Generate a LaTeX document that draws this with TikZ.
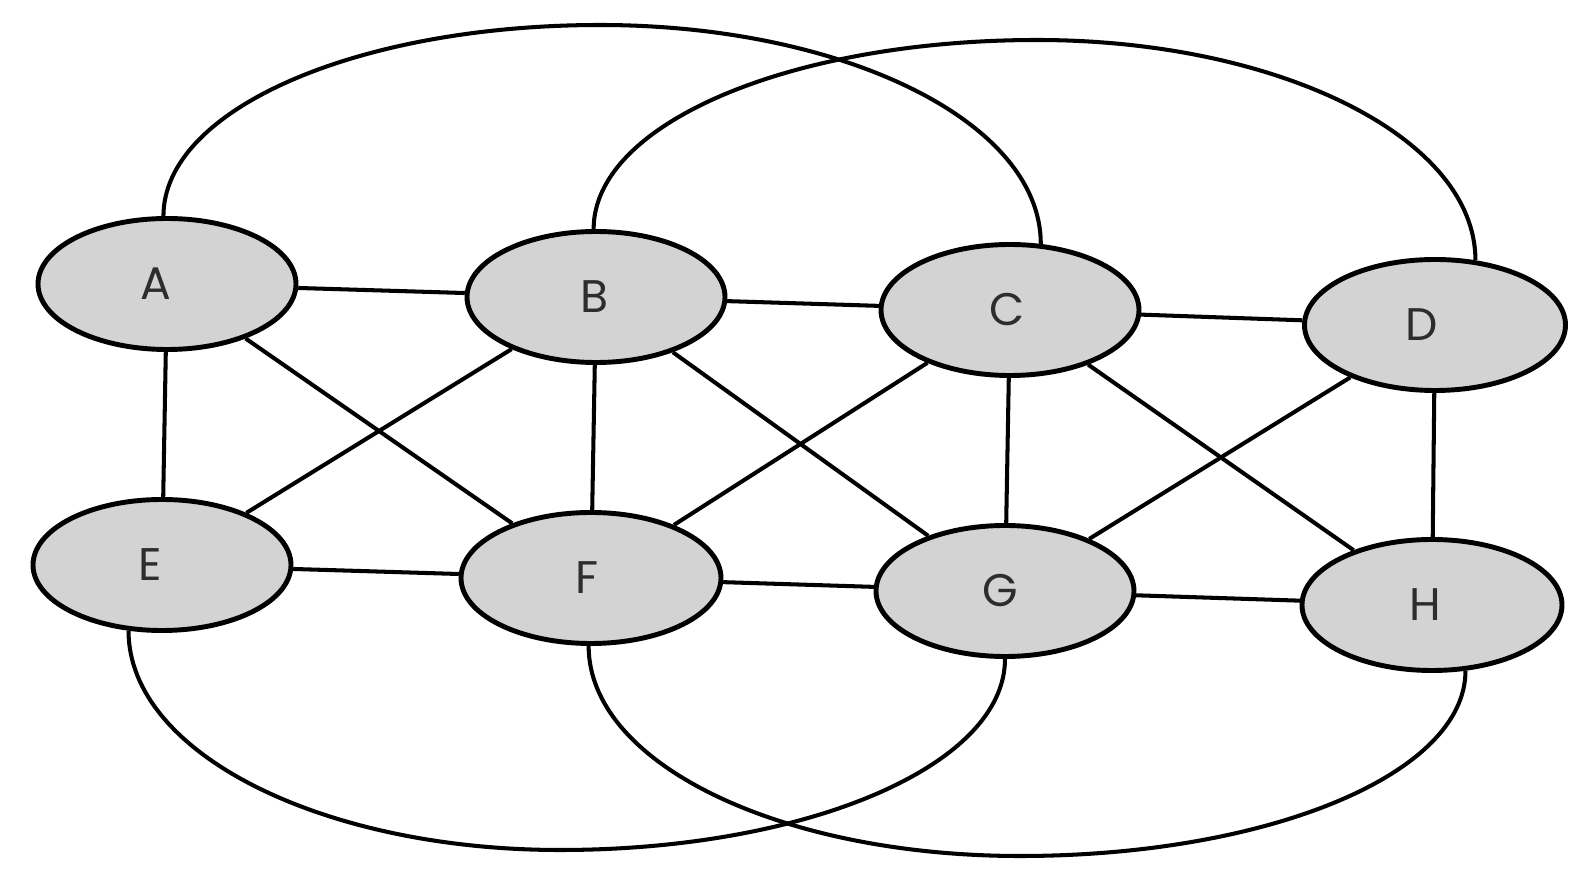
\documentclass[tikz,border=0pt]{standalone}
\usepackage{fontspec}
\setmainfont{Poppins}
\usetikzlibrary{shapes.geometric}
\definecolor{nodefill}{RGB}{211,211,211}
\definecolor{labelcol}{RGB}{45,45,45}
\newlength{\pxu}
\setlength{\pxu}{0.02cm}
\newcommand{\mylabshift}[2]{\hspace*{#1\pxu}#2}
\tikzset{
  vtx/.style={ellipse, draw=black, line width=2.8pt, fill=nodefill,
    minimum width=258\pxu, minimum height=131\pxu, inner sep=0pt,
    font=\fontsize{26}{31}\selectfont, text=labelcol},
  edge/.style={line width=2.3pt, black},
}
\begin{document}
\begin{tikzpicture}[x=0.02cm, y=-0.02cm]
\useasboundingbox (0,0) rectangle (1587,891);
% arc peaks
\coordinate (pAC) at (600,25);
\coordinate (pBD) at (1037,40);
\coordinate (pEG) at (560,850);
\coordinate (pFH) at (1020,856);
% nodes
\node[vtx] (A) at (167,284) {\mylabshift{-22}{A}};
\node[vtx] (B) at (596,297) {\mylabshift{-4}{B}};
\node[vtx] (C) at (1010,310) {\mylabshift{-6}{C}};
\node[vtx, minimum width=261\pxu] (D) at (1435,325) {\mylabshift{-26}{D}};
\node[vtx] (E) at (162,565) {\mylabshift{-24}{E}};
\node[vtx, minimum width=260\pxu] (F) at (591,578) {\mylabshift{-8}{F}};
\node[vtx] (G) at (1005,591) {\mylabshift{-10}{G}};
\node[vtx, minimum width=260\pxu] (H) at (1432,605) {\mylabshift{-14}{H}};
% straight edges
\draw[edge] (A) -- (B);
\draw[edge] (A) -- (E);
\draw[edge] (A) -- (F);
\draw[edge] (B) -- (C);
\draw[edge] (B) -- (E);
\draw[edge] (B) -- (F);
\draw[edge] (B) -- (G);
\draw[edge] (C) -- (D);
\draw[edge] (C) -- (F);
\draw[edge] (C) -- (G);
\draw[edge] (C) -- (H);
\draw[edge] (D) -- (G);
\draw[edge] (D) -- (H);
\draw[edge] (E) -- (F);
\draw[edge] (F) -- (G);
\draw[edge] (G) -- (H);
% big arcs
\draw[edge] (A.93) .. controls +(0,-107) and +(-242,0) .. (pAC)
  .. controls +(242,0) and +(0,-123) .. (C.65);
\draw[edge] (B.92) .. controls +(0,-106) and +(-245,0) .. (pBD)
  .. controls +(241,0) and +(0,-123) .. (D.58);
\draw[edge] (E.243) .. controls +(0,123) and +(-237,0) .. (pEG)
  .. controls +(246,0) and +(0,107) .. (G.270);
\draw[edge] (F.268) .. controls +(0,118) and +(-239,0) .. (pFH)
  .. controls +(246,0) and +(0,104) .. (H.297);
\end{tikzpicture}
\end{document}
